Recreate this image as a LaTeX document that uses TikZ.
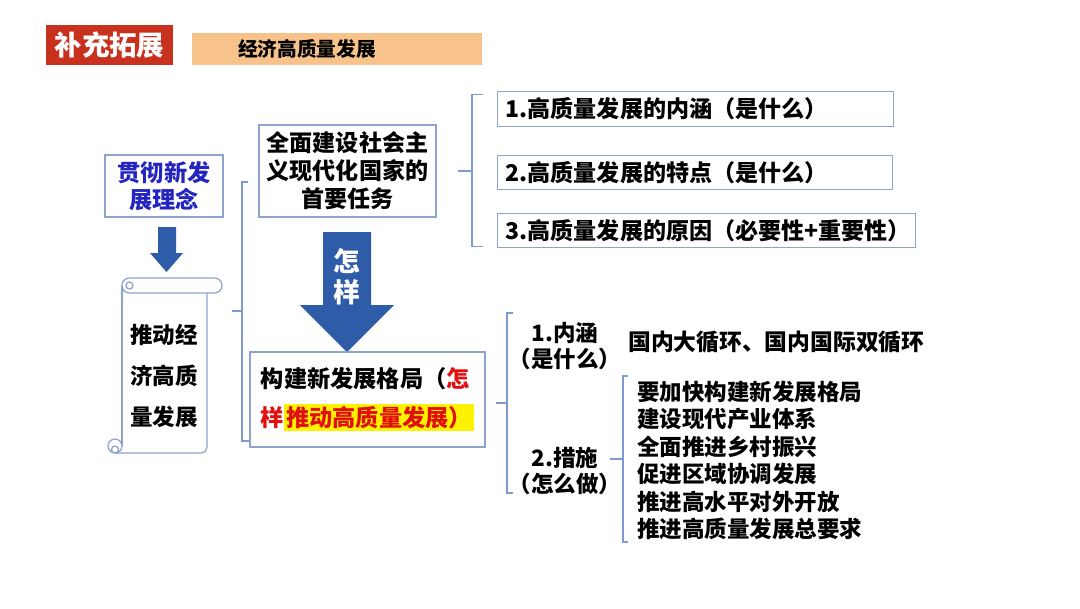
\documentclass[tikz,border=0pt]{standalone}
\usepackage{fontspec}
\setmainfont{Noto Sans CJK SC}
\usetikzlibrary{positioning}
\definecolor{titlered}{HTML}{C9311F}
\definecolor{barorange}{HTML}{F8C28B}
\definecolor{arrowblue}{HTML}{2F5CA8}
\definecolor{boxline}{HTML}{8FA4CC}
\definecolor{braceline}{HTML}{7F9AD0}
\definecolor{ideablue}{HTML}{2424C0}
\definecolor{hlred}{HTML}{E01010}
\setlength{\fboxsep}{1.5pt}

\begin{document}
\begin{tikzpicture}[x=0.025cm,y=-0.025cm,
  box/.style={draw=boxline,line width=0.9pt,inner sep=0pt,font=\bfseries\fontsize{16.4}{20}\selectfont},
  qbox/.style={box,anchor=west,align=left,minimum height=0.86cm,inner xsep=0.2cm},
  brace/.style={draw=braceline,line width=0.8pt},
  plain/.style={inner sep=0pt,font=\bfseries\fontsize{16}{19.5}\selectfont},
  scroll/.style={draw=boxline,line width=0.9pt}]
\useasboundingbox[fill=white] (0,0) rectangle (1080,608);

\node[fill=titlered,text=white,minimum width=3.175cm,minimum height=1cm,font=\bfseries\fontsize{19.5}{22}\selectfont] (title) at (109.5,45) {补充拓展};
\node[fill=barorange,minimum width=7.25cm,minimum height=0.8cm] (bar) at (337,49) {};
\node[plain,font=\bfseries\fontsize{14}{16}\selectfont] (topic) at (307,49) {经济高质量发展};

\node[box,text=ideablue,minimum width=2.95cm,minimum height=1.55cm,align=center,font=\bfseries\fontsize{16.5}{19}\selectfont] (idea) at (164,186) {贯彻新发\\展理念};
\fill[arrowblue] (158,227) -- (176,227) -- (176,253) -- (183,253) -- (166.5,272) -- (150,253) -- (158,253) -- cycle;

\draw[scroll,rounded corners=5.3pt] (122,278) rectangle (222,293);
\draw[scroll] (129.5,285.5) circle[radius=3.5];
\draw[scroll] (122,285.5) -- (122,446);
\draw[scroll,rounded corners=4pt] (207,293) -- (207,453) -- (115,453);
\draw[scroll] (115,446) circle[radius=7];
\draw[scroll] (115,449.5) circle[radius=3.5];
\node[plain,align=center,font=\bfseries\fontsize{16}{29}\selectfont] (goal) at (164,376) {推动经\\济高质\\量发展};

\draw[brace] (248,182) -- (242,182) -- (242,441) -- (250,441);
\draw[brace] (232,311) -- (242,311);

\node[box,minimum width=4.425cm,minimum height=2.3cm,align=center] (task) at (347.5,171) {全面建设社会主\\义现代化国家的\\首要任务};
\fill[arrowblue] (323,232) -- (371,232) -- (371,305) -- (394,305) -- (347,352) -- (300,305) -- (323,305) -- cycle;
\node[text=white,align=center,inner sep=0pt,font=\bfseries\fontsize{19}{22}\selectfont] (how) at (347,277) {怎\\样};
\node[box,minimum width=5.875cm,minimum height=2.375cm,align=left,font=\bfseries\fontsize{16.5}{27.5}\selectfont] (pattern) at (367.5,399.5) {构建新发展格局（\textcolor{hlred}{怎}\\\textcolor{hlred}{样}\colorbox{yellow}{\textcolor{hlred}{推动高质量发展）}}};

\node[qbox,text width=9.5cm] (q1) at (497,109) {1.高质量发展的内涵（是什么）};
\node[qbox,text width=9.475cm] (q2) at (497,172.5) {2.高质量发展的特点（是什么）};
\node[qbox,text width=10.05cm] (q3) at (497,230.5) {3.高质量发展的原因（必要性+重要性）};
\draw[brace] ([shift={(-14,3)}]q1.north west) -- ([shift={(-25,3)}]q1.north west) -- ([shift={(-25,-2)}]q3.south west) -- ([shift={(-14,-2)}]q3.south west);
\draw[brace] ([shift={(21,0)}]task.east) -- ++(15,0);

\draw[brace] (513,313) -- (507,313) -- (507,493) -- (513,493);
\draw[brace] ([shift={(10,3.5)}]pattern.east) -- ++(12,0);
\node[plain,align=center,font=\bfseries\fontsize{16}{18.5}\selectfont] (meaning) at (565,346) {1.内涵\\（是什么）};
\node[plain,anchor=west,font=\bfseries\fontsize{16.2}{18}\selectfont] (cycle) at (628,342) {国内大循环、国内国际双循环};
\node[plain,align=center,font=\bfseries\fontsize{16}{18.5}\selectfont] (measure) at (565,470.5) {2.措施\\（怎么做）};

\draw[brace] (628,376) -- (623,376) -- (623,542) -- (628,542);
\draw[brace] (610,459) -- (623,459);
\node[plain,anchor=west,align=left] (steps) at (637,460.5) {要加快构建新发展格局\\建设现代产业体系\\全面推进乡村振兴\\促进区域协调发展\\推进高水平对外开放\\推进高质量发展总要求};
\end{tikzpicture}
\end{document}
